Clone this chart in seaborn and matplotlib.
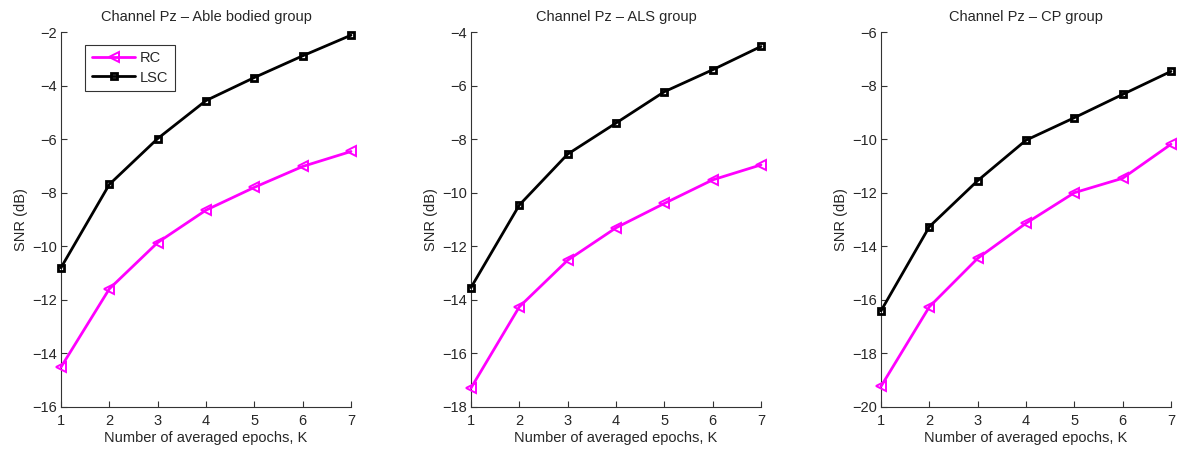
import numpy as np
import pandas as pd
import matplotlib
matplotlib.use("Agg")
import matplotlib.pyplot as plt
import seaborn as sns

# Number of averaged epochs
epochs = [1, 2, 3, 4, 5, 6, 7]

# SNR (dB) at channel Pz for each group
able_rc = [-14.51, -11.59, -9.86, -8.65, -7.80, -7.02, -6.46]
able_lsc = [-10.80, -7.69, -5.98, -4.56, -3.70, -2.89, -2.12]
als_rc = [-17.29, -14.26, -12.52, -11.31, -10.40, -9.52, -8.96]
als_lsc = [-13.54, -10.46, -8.56, -7.40, -6.23, -5.41, -4.54]
cp_rc = [-19.23, -16.26, -14.45, -13.14, -12.00, -11.46, -10.19]
cp_lsc = [-16.41, -13.27, -11.55, -10.04, -9.20, -8.33, -7.47]

titles = ["Channel Pz \u2013 Able bodied group",
          "Channel Pz \u2013 ALS group",
          "Channel Pz \u2013 CP group"]
ylims = [(-16, -2), (-18, -4), (-20, -6)]
groups = [(able_rc, able_lsc), (als_rc, als_lsc), (cp_rc, cp_lsc)]

sns.set_theme(style="ticks")
plt.rcParams["font.family"] = ["Liberation Sans", "DejaVu Sans"]
plt.rcParams["xtick.direction"] = "in"
plt.rcParams["ytick.direction"] = "in"

FS = 10.5
fig = plt.figure(figsize=(11.79, 4.49), dpi=100)
lefts = [61 / 1179, 471 / 1179, 881 / 1179]
width = 290 / 1179
bottom = 1 - 407 / 449
height = 375 / 449

for i, ((rc, lsc), title, ylim) in enumerate(zip(groups, titles, ylims)):
    ax = fig.add_axes([lefts[i], bottom, width, height])
    df = pd.DataFrame({"K": epochs * 2,
                       "SNR": rc + lsc,
                       "method": ["RC"] * 7 + ["LSC"] * 7})
    sns.lineplot(data=df[df.method == "RC"], x="K", y="SNR", ax=ax,
                 color="#ff00ff", lw=2, marker="<", ms=7,
                 mfc="none", mec="#ff00ff", mew=1.4, label="RC",
                 clip_on=False, zorder=3)
    sns.lineplot(data=df[df.method == "LSC"], x="K", y="SNR", ax=ax,
                 color="black", lw=2, marker="s", ms=5,
                 mfc="none", mec="black", mew=2.0, label="LSC",
                 clip_on=False, zorder=3)
    ax.set_xlim(1, 7)
    ax.set_ylim(*ylim)
    ax.set_xticks(epochs)
    ax.set_yticks(np.arange(ylim[0], ylim[1] + 1, 2))
    ax.set_yticklabels([f"\u2212{abs(v)}" for v in range(ylim[0], ylim[1] + 1, 2)])
    ax.set_title(title, fontsize=FS, pad=8)
    ax.set_xlabel("Number of averaged epochs, K", fontsize=FS, labelpad=2)
    ax.set_ylabel("SNR (dB)", fontsize=FS, labelpad=3)
    ax.tick_params(labelsize=FS, length=4, width=0.8, color="#333333", pad=3)
    ax.tick_params(axis="x", pad=5)
    for side in ("top", "right"):
        ax.spines[side].set_visible(False)
    for side in ("left", "bottom"):
        ax.spines[side].set_color("#333333")
        ax.spines[side].set_linewidth(0.8)
    if i == 0:
        leg = ax.legend(loc="upper left", bbox_to_anchor=(0.058, 0.985),
                        fontsize=FS, frameon=True, fancybox=False,
                        handlelength=3.0, borderpad=0.45, labelspacing=0.35,
                        handletextpad=0.3)
        leg.get_frame().set_edgecolor("black")
        leg.get_frame().set_linewidth(0.8)
    elif ax.get_legend() is not None:
        ax.get_legend().remove()

fig.savefig("out.png", dpi=100)
